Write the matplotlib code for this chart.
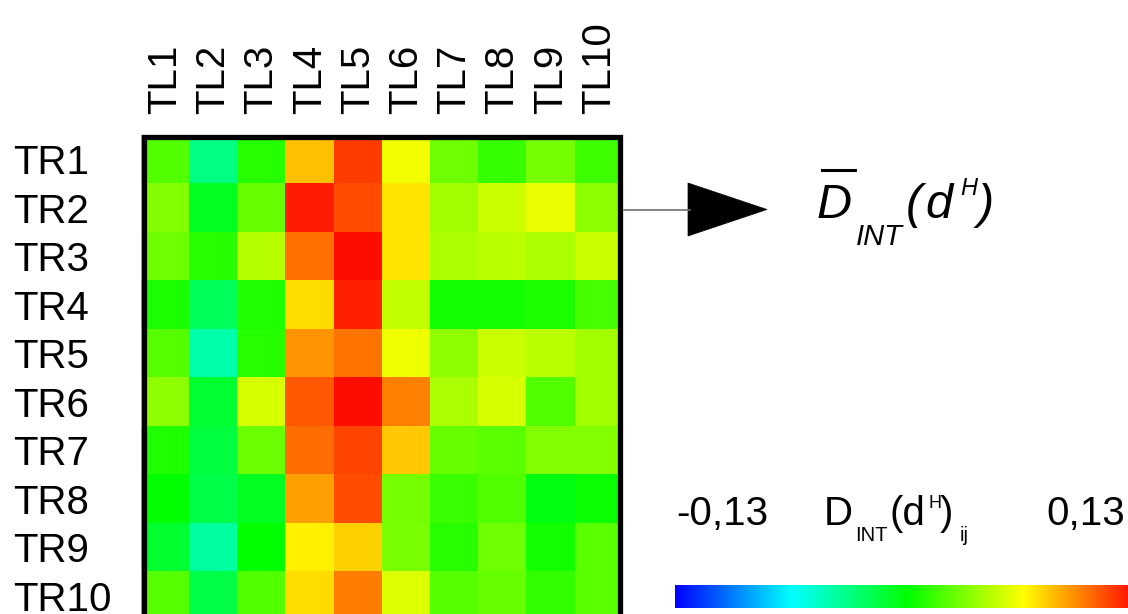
import matplotlib
matplotlib.use("Agg")
import numpy as np
import matplotlib.pyplot as plt
from matplotlib.colors import LinearSegmentedColormap
from matplotlib.patches import Rectangle, Polygon
from matplotlib.lines import Line2D

# ---------------- data ----------------
row_labels = ["TR1", "TR2", "TR3", "TR4", "TR5", "TR6", "TR7", "TR8", "TR9", "TR10"]
col_labels = ["TL1", "TL2", "TL3", "TL4", "TL5", "TL6", "TL7", "TL8", "TL9", "TL10"]

tr1 = [0.021, -0.033, 0.010, 0.081, 0.114, 0.061, 0.028, 0.014, 0.030, 0.016]
tr2 = [0.033, -0.008, 0.026, 0.122, 0.110, 0.072, 0.041, 0.051, 0.059, 0.036]
tr3 = [0.028, 0.010, 0.046, 0.101, 0.126, 0.072, 0.043, 0.047, 0.043, 0.051]
tr4 = [0.007, -0.023, 0.008, 0.074, 0.121, 0.049, 0.005, 0.005, 0.007, 0.018]
tr5 = [0.022, -0.043, 0.010, 0.092, 0.100, 0.060, 0.036, 0.051, 0.047, 0.041]
tr6 = [0.036, -0.013, 0.054, 0.107, 0.126, 0.097, 0.043, 0.054, 0.021, 0.041]
tr7 = [0.008, -0.016, 0.027, 0.102, 0.112, 0.079, 0.026, 0.023, 0.033, 0.033]
tr8 = [0.000, -0.019, -0.009, 0.089, 0.110, 0.030, 0.015, 0.021, -0.005, 0.003]
tr9 = [-0.012, -0.040, 0.000, 0.069, 0.077, 0.031, 0.010, 0.028, 0.005, 0.023]
tr10 = [0.022, -0.018, 0.021, 0.074, 0.098, 0.056, 0.022, 0.026, 0.013, 0.023]

vmin, vmax = -0.13, 0.13
cbar_min_label = "-0,13"
cbar_max_label = "0,13"

# ---------------- style ----------------
plt.rcParams["font.family"] = ["Liberation Sans", "DejaVu Sans"]
W, H = 1128, 614


def fx(x):
    return x / W


def fy(y):
    return 1 - y / H


cmap = LinearSegmentedColormap.from_list(
    "bcgyr", ["#0000ff", "#00ffff", "#00ff00", "#ffff00", "#ff0000"]
)

data = np.array([tr1, tr2, tr3, tr4, tr5, tr6, tr7, tr8, tr9, tr10])

fig = plt.figure(figsize=(W / 100, H / 100), dpi=100)

# heatmap
ax_top, ax_h = 135, 485
ax = fig.add_axes([fx(141), fy(ax_top + ax_h), 482 / W, ax_h / H])
im = ax.imshow(data, cmap=cmap, vmin=vmin, vmax=vmax, aspect="auto",
               interpolation="nearest")
ax.set_xticks(range(len(col_labels)))
ax.set_xticklabels(col_labels, rotation=90, fontsize=29)
ax.xaxis.tick_top()
ax.tick_params(axis="x", length=0, pad=15)
ax.set_yticks(range(len(row_labels)))
ax.set_yticklabels(row_labels, fontsize=29, ha="left")
ax.tick_params(axis="y", length=0, pad=92)
for s in ax.spines.values():
    s.set_visible(False)

# frame drawn just inside the cells
ix = 2.5 / 482
iy = 2.0 / ax_h
ax.add_patch(Rectangle((ix, -0.3), 1 - 2 * ix, 1.3 - iy, transform=ax.transAxes,
                       fill=False, edgecolor="black", lw=3.8, clip_on=False,
                       zorder=5))

# connector line + arrow head
fig.add_artist(Line2D([fx(624), fx(690)], [fy(209.5), fy(209.5)],
                      color="#707070", lw=1.2))
fig.add_artist(Polygon([[fx(688), fy(183)], [fx(688), fy(236)], [fx(767), fy(209.5)]],
                       closed=True, facecolor="black", edgecolor="black", lw=0.5))

# right-hand label  D̄_INT(d^H)
big = 35
fig.text(fx(816), fy(218), "D", fontsize=big, style="italic", va="baseline", ha="left")
fig.add_artist(Line2D([fx(822), fx(855)], [fy(170), fy(170)], color="black", lw=2.2))
fig.text(fx(856), fy(245), "INT", fontsize=21, style="italic", va="baseline", ha="left")
fig.text(fx(906), fy(218), "(", fontsize=big, style="italic", va="baseline", ha="left")
fig.text(fx(925), fy(218), "d", fontsize=big, style="italic", va="baseline", ha="left")
fig.text(fx(960), fy(195), "H", fontsize=17, style="italic", va="baseline", ha="left")
fig.text(fx(978), fy(218), ")", fontsize=big, style="italic", va="baseline", ha="left")

# colorbar and its labels
cax = fig.add_axes([fx(675), fy(608), 465 / W, 23 / H])
cb = fig.colorbar(im, cax=cax, orientation="horizontal")
cb.set_ticks([])
cb.outline.set_visible(False)

fig.text(fx(676), fy(525), cbar_min_label, fontsize=29, va="baseline", ha="left")
fig.text(fx(824), fy(525), "D", fontsize=29, va="baseline", ha="left")
fig.text(fx(855), fy(541), "INT", fontsize=14.5, va="baseline", ha="left")
fig.text(fx(890), fy(525), "(d", fontsize=29, va="baseline", ha="left")
fig.text(fx(928), fy(508), "H", fontsize=13, va="baseline", ha="left")
fig.text(fx(940), fy(525), ")", fontsize=29, va="baseline", ha="left")
fig.text(fx(960), fy(541), "ij", fontsize=14.5, va="baseline", ha="left")
fig.text(fx(1046), fy(525), cbar_max_label, fontsize=29, va="baseline", ha="left")

fig.savefig("out.png", dpi=100)
